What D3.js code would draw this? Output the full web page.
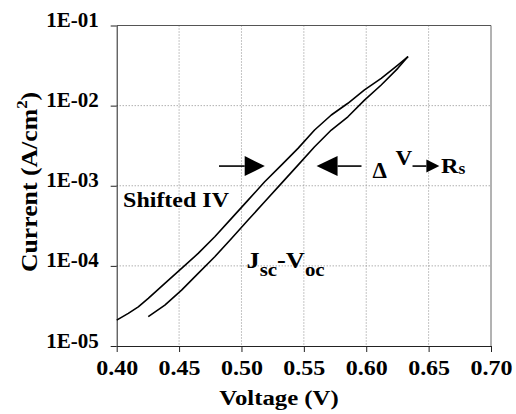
<!DOCTYPE html>
<html>
<head>
  <script src="https://d3js.org/d3.v7.min.js"></script>
  <style>
    * { margin: 0; box-sizing: border-box; }
    body { background: #fff; }
    text { font-family: "Liberation Serif", "Times New Roman", serif; font-weight: bold; fill: #000; }
    .grid { stroke: #8a8a8a; stroke-width: 1; stroke-dasharray: 1,2; }
    .curve { fill: none; stroke: #000; stroke-width: 1.6; stroke-linejoin: round; }
  </style>
</head>
<body>
  <script>
    // Shifted IV curve
    const voltsShifted = [0.400, 0.4093, 0.4173, 0.4253, 0.4386, 0.452, 0.4653, 0.4786, 0.492, 0.5053, 0.5186, 0.532, 0.5453, 0.5586, 0.572, 0.5853, 0.5986, 0.612, 0.6253, 0.6335];
    const currShifted = [2.10e-5, 2.55e-5, 3.08e-5, 3.93e-5, 6.04e-5, 9.31e-5, 1.43e-4, 2.31e-4, 3.92e-4, 6.62e-4, 1.12e-3, 1.81e-3, 2.93e-3, 4.96e-3, 7.64e-3, 1.07e-2, 1.57e-2, 2.19e-2, 3.21e-2, 4.1e-2];
    // Jsc-Voc curve
    const voltsJscVoc = [0.4253, 0.4386, 0.452, 0.4653, 0.4786, 0.492, 0.5053, 0.5186, 0.532, 0.5453, 0.5586, 0.572, 0.5853, 0.5986, 0.612, 0.6253, 0.6335];
    const currJscVoc = [2.32e-5, 3.24e-5, 4.99e-5, 8.05e-5, 1.30e-4, 2.20e-4, 3.73e-4, 6.31e-4, 1.07e-3, 1.81e-3, 3.07e-3, 4.96e-3, 7.26e-3, 1.17e-2, 1.81e-2, 2.92e-2, 4.1e-2];

    const xTicks = [0.40, 0.45, 0.50, 0.55, 0.60, 0.65, 0.70];
    const yTicks = [1e-1, 1e-2, 1e-3, 1e-4, 1e-5];

    // annotation arrows, in data units: [from V, head base V, tip V, current]
    const arrows = [
      [0.482, 0.5026, 0.5187, 1.76e-3],
      [0.5962, 0.577, 0.5602, 1.76e-3],
      [0.6371, 0.6482, 0.6586, 1.76e-3]
    ];
    const arrowHalf = [10, 10, 6.5];

    const width = 516, height = 414;
    const svg = d3.select("body").append("svg")
      .attr("width", width)
      .attr("height", height);

    const x = d3.scaleLinear().domain([0.40, 0.70]).range([116.7, 491]);
    const y = d3.scaleLog().domain([1e-5, 1e-1]).range([346, 25.5]);

    // gridlines
    svg.selectAll(".gx").data(xTicks.slice(1, -1)).enter().append("line")
      .attr("class", "grid")
      .attr("x1", d => x(d)).attr("x2", d => x(d))
      .attr("y1", y(1e-1)).attr("y2", y(1e-5));
    svg.selectAll(".gy").data(yTicks.slice(1, -1)).enter().append("line")
      .attr("class", "grid")
      .attr("x1", x(0.40)).attr("x2", x(0.70))
      .attr("y1", d => y(d)).attr("y2", d => y(d));

    // frame top / right
    svg.append("line").attr("x1", x(0.40)).attr("x2", x(0.70))
      .attr("y1", y(1e-1)).attr("y2", y(1e-1)).attr("stroke", "#555");
    svg.append("line").attr("x1", x(0.70)).attr("x2", x(0.70))
      .attr("y1", y(1e-1)).attr("y2", y(1e-5)).attr("stroke", "#666");

    function stretch(sel, k, tx, ty, rot) {
      sel.attr("x", 0).attr("y", 0).attr("dy", 0)
        .attr("transform", `translate(${tx},${ty})${rot ? " rotate(" + rot + ")" : ""} scale(${k},1)`);
    }

    // x axis
    const xAxis = svg.append("g")
      .attr("transform", `translate(0,${y(1e-5)})`)
      .call(d3.axisBottom(x).tickValues(xTicks).tickFormat(d3.format(".2f")).tickSize(6).tickSizeOuter(0));
    xAxis.select(".domain").attr("stroke", "#222");
    xAxis.selectAll(".tick line").attr("stroke", "#222");
    xAxis.selectAll(".tick text")
      .attr("font-size", 20)
      .attr("font-family", null)
      .each(function () { stretch(d3.select(this), 1.2, 0, 29); });

    // y axis
    const yAxis = svg.append("g")
      .attr("transform", `translate(${x(0.40)},0)`)
      .call(d3.axisLeft(y).tickValues(yTicks)
        .tickFormat(d => "1E-" + String(-Math.round(Math.log10(d))).padStart(2, "0"))
        .tickSize(6).tickSizeOuter(0));
    yAxis.select(".domain").attr("stroke", "#222");
    yAxis.selectAll(".tick line").attr("stroke", "#222");
    yAxis.selectAll(".tick text")
      .attr("font-size", 21)
      .attr("font-family", null)
      .each(function () { stretch(d3.select(this), 1.0, -18, 1); });

    // curves
    const line = d3.line().x(d => x(d[0])).y(d => y(d[1]));
    svg.append("path").attr("class", "curve")
      .attr("d", line(d3.zip(voltsShifted, currShifted)));
    svg.append("path").attr("class", "curve")
      .attr("d", line(d3.zip(voltsJscVoc, currJscVoc)));

    // arrows
    arrows.forEach((a, i) => {
      const yy = y(a[3]);
      const h = arrowHalf[i];
      svg.append("line")
        .attr("x1", x(a[0])).attr("x2", x(a[1]))
        .attr("y1", yy).attr("y2", yy)
        .attr("stroke", "#000").attr("stroke-width", 1.6);
      svg.append("path")
        .attr("d", `M${x(a[1])},${yy - h}L${x(a[2])},${yy}L${x(a[1])},${yy + h}Z`)
        .attr("fill", "#000");
    });

    // labels
    const shifted = svg.append("text").attr("font-size", 22).text("Shifted IV");
    stretch(shifted, 1.09, x(0.4051), y(5.47e-4));

    const jv = svg.append("text");
    jv.append("tspan").attr("font-size", 24).text("J");
    jv.append("tspan").attr("font-size", 19).attr("dy", 8).text("sc");
    jv.append("tspan").attr("font-size", 24).attr("dy", -8).text("-V");
    jv.append("tspan").attr("font-size", 19).attr("dy", 8).text("oc");
    stretch(jv, 1.1, x(0.504), y(9.3e-5));

    const delta = svg.append("text").attr("font-size", 23).attr("font-weight", "normal").text("\u0394");
    stretch(delta, 1.0, x(0.605), y(1.25e-3));
    const vv = svg.append("text").attr("font-size", 22).text("V");
    stretch(vv, 1.05, x(0.6234), y(1.81e-3));
    const rs = svg.append("text");
    rs.append("tspan").attr("font-size", 22).text("R");
    rs.append("tspan").attr("font-size", 16).attr("dy", 1).text("s");
    stretch(rs, 1.1, x(0.66), y(1.44e-3));

    // axis titles
    const xt = svg.append("text").attr("font-size", 21).attr("text-anchor", "middle").text("Voltage (V)");
    stretch(xt, 1.18, 279, 405);

    const yt = svg.append("text").attr("font-size", 23).attr("text-anchor", "middle");
    yt.append("tspan").text("Current (A/cm");
    yt.append("tspan").attr("font-size", 15).attr("dy", -10).text("2");
    yt.append("tspan").attr("dy", 10).text(")");
    stretch(yt, 1.12, 37, 182, -90);
  </script>
</body>
</html>
